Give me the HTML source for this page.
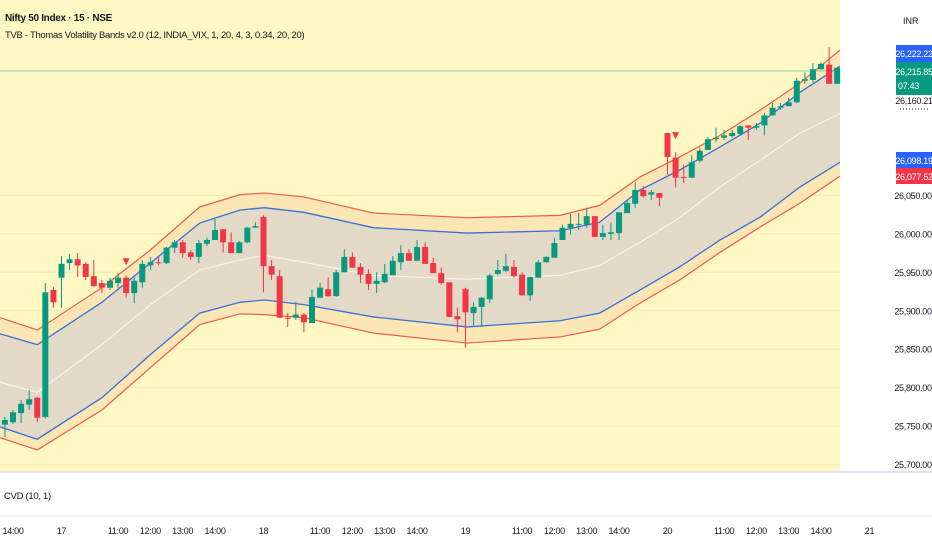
<!DOCTYPE html>
<html><head><meta charset="utf-8"><style>
html,body{margin:0;padding:0;background:#fff;width:932px;height:550px;overflow:hidden}
svg text{font-family:"Liberation Sans",sans-serif}
.ax{font-size:9px;letter-spacing:-0.3px}
</style></head><body>
<svg id="chart" width="932" height="550" xmlns="http://www.w3.org/2000/svg">
<rect x="0" y="0" width="932" height="550" fill="#ffffff"/>
<rect x="0" y="0" width="840" height="471" fill="#fff8c3"/>
<g id="grid"></g>
<g id="bands"></g>
<line x1="0" y1="71" x2="840" y2="71" stroke="#8fd0a0" stroke-width="1"/>
<g id="candles"></g>
<g id="yaxis"></g>
<text x="5" y="21" font-size="10" font-weight="bold" fill="#131722" letter-spacing="-0.3">Nifty 50 Index · 15 · NSE</text>
<text x="5" y="38" font-size="9.5" fill="#131722" letter-spacing="-0.3">TVB - Thomas Volatility Bands v2.0 (12, INDIA_VIX, 1, 20, 4, 3, 0.34, 20, 20)</text>
<text x="903" y="24" font-size="9" fill="#131722">INR</text>
<line x1="0" y1="472" x2="932" y2="472" stroke="#e0e3eb" stroke-width="2"/>
<text x="4" y="499" font-size="9.5" fill="#131722" letter-spacing="-0.3">CVD (10, 1)</text>
<line x1="0" y1="516" x2="932" y2="516" stroke="#e0e3eb" stroke-width="1"/>
<g id="xaxis"></g>
<g>
<rect x="896" y="45" width="36" height="17" fill="#2962ff"/>
<text class="ax" x="914" y="57" fill="#fff" text-anchor="middle">26,222.22</text>
<rect x="896" y="62" width="36" height="33" fill="#089981"/>
<text class="ax" x="914" y="75" fill="#fff" text-anchor="middle">26,215.85</text>
<text class="ax" x="898" y="89" fill="#fff">07:43</text>
<text class="ax" x="914" y="104" fill="#131722" text-anchor="middle">26,160.21</text>
<line x1="900" y1="109" x2="928" y2="109" stroke="#131722" stroke-dasharray="1,2"/>
<rect x="896" y="152" width="36" height="16" fill="#2962ff"/>
<text class="ax" x="914" y="164" fill="#fff" text-anchor="middle">26,098.19</text>
<rect x="896" y="168" width="36" height="16" fill="#f23645"/>
<text class="ax" x="914" y="180" fill="#fff" text-anchor="middle">26,077.52</text>
</g>
</svg>
<script>
const bandIdx = [-7.6,-3.0,5.0,11.0,17.1,22.1,25.1,30.0,38.6,50.2,61.7,66.6,71.6,76.5,81.5,86.5,91.4,96.4];
const upperRed = [25891,25875,25930,25979,26035,26051,26053,26048,26027,26021,26024,26037,26074,26100,26128,26161,26196,26239];
const upperBlue = [25870,25856,25911,25962,26014,26031,26034,26028,26008,26001,26004,26015,26057,26083,26113,26144,26184,26218];
const midLine = [25807,25794,25856,25908,25953,25966,25972,25963,25946,25941,25946,25959,25989,26021,26061,26096,26131,26156];
const lowerBlue = [25749,25733,25787,25843,25897,25911,25914,25908,25892,25879,25887,25897,25927,25957,25992,26022,26061,26093];
const lowerRed = [25735,25719,25771,25826,25882,25896,25895,25891,25871,25858,25866,25876,25910,25940,25976,26009,26040,26075];
const candleStart = -7;
const opens = [25752,25755,25767,25778,25787,25762,25927,25943,25962,25967,25961,25945,25936,25930,25936,25943,25923,25937,25959,25963,25962,25982,25989,25976,25970,25987,25992,26006,25989,25975,25989,26008,26022,25958,25945,25891,25891,25895,25884,25917,25928,25919,25950,25970,25957,25948,25935,25937,25946,25963,25975,25965,25983,25962,25949,25937,25893,25928,25897,25905,25915,25948,25952,25957,25947,25920,25943,25963,25969,25992,26008,26012,26012,26023,25996,26000,26001,26027,26039,26057,26051,26053,26131,26099,26074,26073,26095,26109,26123,26125,26127,26130,26141,26138,26141,26154,26164,26166,26171,26199,26200,26214,26220,26195];
const highs = [25762,25771,25784,25797,25788,25936,25931,25971,25974,25975,25963,25966,25940,25943,25949,25946,25943,25966,25970,25970,25983,25992,25992,25979,25992,25995,26019,26006,26002,25991,26009,26015,26024,25966,25953,25897,25911,25897,25927,25936,25944,25953,25980,25976,25962,25954,25950,25961,25971,25985,25980,25992,25989,25969,25956,25937,25904,25930,25911,25918,25948,25966,25974,25966,25950,25944,25966,25971,25995,26012,26026,26027,26034,26023,26012,26015,26028,26044,26067,26062,26057,26053,26131,26106,26090,26102,26112,26126,26138,26135,26135,26141,26141,26144,26157,26170,26170,26177,26203,26210,26222,26223,26243,26216];
const lows = [25736,25753,25754,25771,25755,25760,25904,25904,25953,25944,25940,25931,25923,25927,25930,25917,25910,25930,25953,25959,25961,25975,25969,25966,25962,25984,25992,25976,25975,25975,25988,26008,25924,25940,25891,25879,25888,25872,25884,25917,25918,25918,25950,25956,25936,25927,25923,25936,25946,25953,25965,25965,25961,25949,25934,25892,25872,25852,25881,25879,25910,25946,25950,25943,25920,25913,25943,25963,25969,25992,25999,26005,26008,25996,25992,25992,25992,26027,26034,26047,26044,26036,26077,26060,26066,26073,26093,26109,26119,26122,26125,26128,26122,26135,26128,26154,26161,26166,26170,26195,26197,26213,26195,26195];
const closes = [25758,25768,25779,25785,25761,25924,25911,25961,25967,25959,25944,25932,25930,25939,25943,25923,25939,25961,25963,25962,25982,25989,25975,25970,25988,25992,26005,25989,25975,25989,26008,26010,25958,25947,25891,25890,25895,25885,25918,25930,25919,25950,25970,25956,25947,25935,25939,25948,25965,25975,25965,25983,25961,25949,25936,25892,25889,25898,25905,25917,25946,25953,25958,25945,25920,25944,25963,25970,25988,26008,26013,26013,26023,25996,26001,26002,26028,26040,26057,26049,26054,26047,26100,26073,26073,26093,26108,26123,26125,26128,26131,26140,26138,26140,26154,26164,26166,26171,26199,26201,26214,26221,26195,26216];
const signalIdx = [8, 76];
const signalPrice = [25963, 26127];
const priceTicks = [26050,26000,25950,25900,25850,25800,25750,25700];
const priceTickLabels = ["26,050.00","26,000.00","25,950.00","25,900.00","25,850.00","25,800.00","25,750.00","25,700.00"];
const timeTickIdx = [-6,0,7,11,15,19,25,32,36,40,44,50,57,61,65,69,75,82,86,90,94,100];
const timeTickLabels = ["14:00","17","11:00","12:00","13:00","14:00","18","11:00","12:00","13:00","14:00","19","11:00","12:00","13:00","14:00","20","11:00","12:00","13:00","14:00","21"];

const NS = "http://www.w3.org/2000/svg";
const X0 = 61.5, STEP = 8.08;
function xs(i){ return X0 + i*STEP; }
function ys(p){ return (26304 - p)/1.3; }
function mk(tag, attrs, parent){ const e=document.createElementNS(NS,tag); for(const k in attrs) e.setAttribute(k, attrs[k]); parent.appendChild(e); return e; }

const grid = document.getElementById('grid');
priceTicks.forEach((p)=>{
  const l = mk('line',{x1:0,x2:840,y1:ys(p),y2:ys(p),stroke:'#f0e9bb','stroke-width':1},grid);
  
  
});

const yax = document.getElementById('yaxis');
priceTicks.forEach((p,k)=>{
  const t = mk('text',{x:913,y:ys(p)+3.5,'class':'ax',fill:'#131722','text-anchor':'middle'},yax);
  t.textContent = priceTickLabels[k];
  
  
});

const xax = document.getElementById('xaxis');
timeTickIdx.forEach((i,k)=>{
  const t = mk('text',{x:xs(i),y:534,'class':'ax',fill:'#131722','text-anchor':'middle'},xax);
  t.textContent = timeTickLabels[k];
  
  
});

const bands = document.getElementById('bands');
function pts(arr){ return bandIdx.map((i,k)=>[Math.max(0,Math.min(840,xs(i))), ys(arr[k])]); }
function areaPath(a,b){
  const A=pts(a), B=pts(b).reverse();
  return 'M'+A.map(p=>p.join(',')).join(' L')+' L'+B.map(p=>p.join(',')).join(' L')+' Z';
}
function linePath(a){ return 'M'+pts(a).map(p=>p.join(',')).join(' L'); }
let e;
e = mk('path',{d:areaPath(upperRed,upperBlue),fill:'#fbe6b4'},bands);


e = mk('path',{d:areaPath(lowerBlue,lowerRed),fill:'#fbe6b4'},bands);


e = mk('path',{d:areaPath(upperBlue,lowerBlue),fill:'#e2d9c6'},bands);


e = mk('path',{d:linePath(upperRed),fill:'none',stroke:'#f05a4a','stroke-width':1.2},bands);


e = mk('path',{d:linePath(lowerRed),fill:'none',stroke:'#f05a4a','stroke-width':1.2},bands);


e = mk('path',{d:linePath(upperBlue),fill:'none',stroke:'#3a6fd8','stroke-width':1.3},bands);


e = mk('path',{d:linePath(lowerBlue),fill:'none',stroke:'#3a6fd8','stroke-width':1.3},bands);


e = mk('path',{d:linePath(midLine),fill:'none',stroke:'#f7f3ea','stroke-width':1.3},bands);



const cg = document.getElementById('candles');
opens.forEach((o,k)=>{
  const i = candleStart + k, x = xs(i), c = closes[k];
  const col = c >= o ? '#089981' : '#f23645';
  const w = mk('line',{x1:x,x2:x,y1:ys(highs[k]),y2:ys(lows[k]),stroke:col,'stroke-width':1},cg);
  
  
  const top = ys(Math.max(o,c)), h = Math.max(1, ys(Math.min(o,c)) - top);
  const b = mk('rect',{x:x-3,y:top,width:6,height:h,fill:col},cg);
  
  
});
signalIdx.forEach((i,k)=>{
  const x = xs(i), y = ys(signalPrice[k]);
  const t = mk('path',{d:`M${x-3.5},${y-4} L${x+3.5},${y-4} L${x},${y+3} Z`,fill:'#f23645'},cg);
  
  
});
</script>
</body></html>
